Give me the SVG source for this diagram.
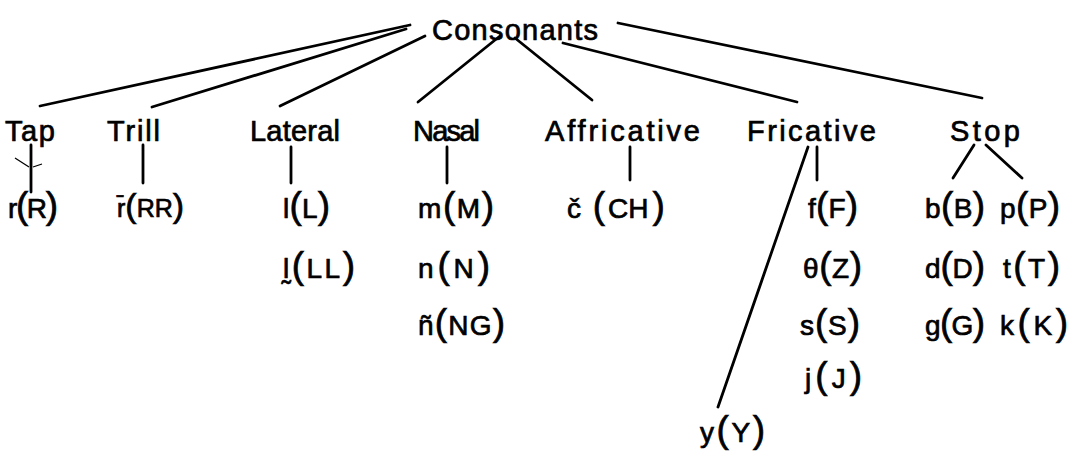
<svg xmlns="http://www.w3.org/2000/svg" width="1078" height="459" viewBox="0 0 1078 459">
<style>
text{font-family:"Liberation Sans",Arial,sans-serif;fill:#000;stroke:#000;stroke-width:0.7}
.root{font-size:29px}
.cat{font-size:29px}
.leaf{font-size:28px}
.p{font-size:37px}
.leafs{font-size:25px}
.ps{font-size:34px}
.ln{stroke:#000;stroke-width:2.8;fill:none;stroke-linecap:round}
.thin{stroke:#000;stroke-width:1.3;fill:none}
</style>
<rect width="1078" height="459" fill="#fff"/>
<g id="connectors">
<path class="ln" d="M410 25 L40 106"/>
<path class="ln" d="M406 29 L152 107"/>
<path class="ln" d="M425 36 L280 106"/>
<path class="ln" d="M500 36 L418 102"/>
<path class="ln" d="M515 38 L592 100"/>
<path class="ln" d="M563 43 L797 102"/>
<path class="ln" d="M618 23 L982 98"/>
<path class="ln" d="M31 145 L31 192"/>
<path class="thin" d="M15 158 L29 167 M33 167 L42 164"/>
<path class="ln" d="M143 145 L143 183"/>
<path class="ln" d="M291 147 L291 183"/>
<path class="ln" d="M447 147 L447 183"/>
<path class="ln" d="M630 147 L630 180"/>
<path class="ln" d="M817 147 L817 180"/>
<path class="ln" d="M808 147 L718 407"/>
<path class="ln" d="M974 145 L953 178"/>
<path class="ln" d="M986 145 L1022 178"/>
</g>
<g id="n-consonants"><text class="root" x="432" y="40" textLength="166" lengthAdjust="spacing">Consonants</text></g>
<g id="n-tap"><text class="cat" x="5" y="141" textLength="50" lengthAdjust="spacing">Tap</text></g>
<g id="n-trill"><text class="cat" x="107" y="141" textLength="53" lengthAdjust="spacing">Trill</text></g>
<g id="n-lateral"><text class="cat" x="250" y="141" textLength="90" lengthAdjust="spacing">Lateral</text></g>
<g id="n-nasal"><text class="cat" x="413" y="141" textLength="67" lengthAdjust="spacing">Nasal</text></g>
<g id="n-affricative"><text class="cat" x="545" y="141" textLength="155" lengthAdjust="spacing">Affricative</text></g>
<g id="n-fricative"><text class="cat" x="747" y="141" textLength="129" lengthAdjust="spacing">Fricative</text></g>
<g id="n-stop"><text class="cat" x="950" y="141" textLength="70" lengthAdjust="spacing">Stop</text></g>
<g id="n-r"><text class="leaf" x="8" y="218" textLength="50" lengthAdjust="spacing">r<tspan class="p">(</tspan>R<tspan class="p">)</tspan></text></g>
<g id="n-rr"><text class="leafs" x="117" y="217">r̄<tspan class="ps">(</tspan>RR<tspan class="ps">)</tspan></text></g>
<g id="n-l"><text class="leaf" x="283" y="218" textLength="47" lengthAdjust="spacing">l<tspan class="p">(</tspan>L<tspan class="p">)</tspan></text></g>
<g id="n-ll"><text class="leaf" x="283" y="278" textLength="72" lengthAdjust="spacing">l̰<tspan class="p">(</tspan>LL<tspan class="p">)</tspan></text></g>
<g id="n-m"><text class="leaf" x="418" y="218" textLength="76" lengthAdjust="spacing">m<tspan class="p">(</tspan>M<tspan class="p">)</tspan></text></g>
<g id="n-n"><text class="leaf" x="418" y="278" textLength="72" lengthAdjust="spacing">n<tspan class="p">(</tspan>N<tspan class="p">)</tspan></text></g>
<g id="n-ng"><text class="leaf" x="418" y="335" textLength="87" lengthAdjust="spacing">ñ<tspan class="p">(</tspan>NG<tspan class="p">)</tspan></text></g>
<g id="n-ch"><text class="leaf" x="567" y="218">č <tspan class="p" dx="4">(</tspan><tspan dx="3">CH</tspan><tspan class="p" dx="4">)</tspan></text></g>
<g id="n-f"><text class="leaf" x="808" y="218" textLength="50" lengthAdjust="spacing">f<tspan class="p">(</tspan>F<tspan class="p">)</tspan></text></g>
<g id="n-z"><text class="leaf" x="803" y="278" textLength="59" lengthAdjust="spacing">θ<tspan class="p">(</tspan>Z<tspan class="p">)</tspan></text></g>
<g id="n-s"><text class="leaf" x="800" y="335" textLength="60" lengthAdjust="spacing">s<tspan class="p">(</tspan>S<tspan class="p">)</tspan></text></g>
<g id="n-j"><text class="leaf" x="805" y="388" textLength="57" lengthAdjust="spacing">j<tspan class="p">(</tspan>J<tspan class="p">)</tspan></text></g>
<g id="n-y"><text class="leaf" x="700" y="442" textLength="65" lengthAdjust="spacing">y<tspan class="p">(</tspan>Y<tspan class="p">)</tspan></text></g>
<g id="n-b"><text class="leaf" x="925" y="218" textLength="60" lengthAdjust="spacing">b<tspan class="p">(</tspan>B<tspan class="p">)</tspan></text></g>
<g id="n-d"><text class="leaf" x="925" y="278" textLength="60" lengthAdjust="spacing">d<tspan class="p">(</tspan>D<tspan class="p">)</tspan></text></g>
<g id="n-g"><text class="leaf" x="925" y="335" textLength="60" lengthAdjust="spacing">g<tspan class="p">(</tspan>G<tspan class="p">)</tspan></text></g>
<g id="n-p"><text class="leaf" x="1000" y="218" textLength="60" lengthAdjust="spacing">p<tspan class="p">(</tspan>P<tspan class="p">)</tspan></text></g>
<g id="n-t"><text class="leaf" x="1003" y="278" textLength="57" lengthAdjust="spacing">t<tspan class="p">(</tspan>T<tspan class="p">)</tspan></text></g>
<g id="n-k"><text class="leaf" x="1000" y="335" textLength="68" lengthAdjust="spacing">k<tspan class="p">(</tspan>K<tspan class="p">)</tspan></text></g>
</svg>
